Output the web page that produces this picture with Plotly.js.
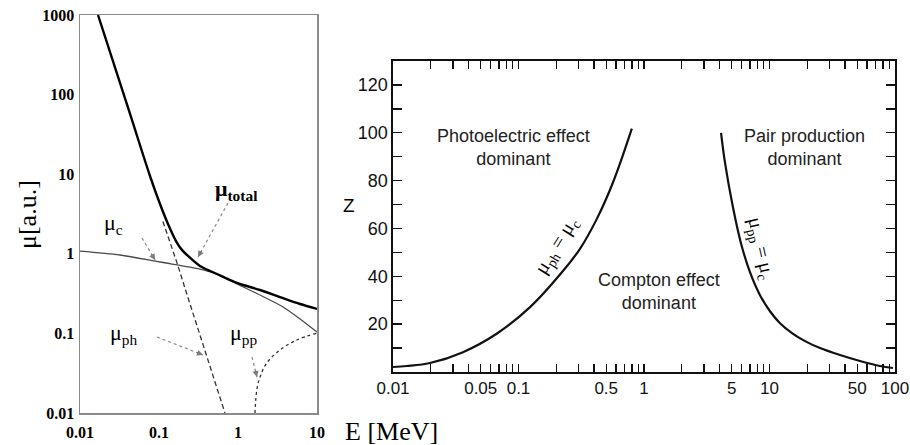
<!DOCTYPE html>
<html><head><meta charset="utf-8">
<script src="https://cdn.plot.ly/plotly-3.0.1.min.js"></script>
<style>html,body{margin:0;padding:0;background:#fff}</style>
</head><body><div id="chart" style="width:910px;height:445px"></div>
<script>
// ---- Left panel: attenuation coefficients (log-log) ----
const E_total = [0.0169, 0.043, 0.0769, 0.103, 0.130, 0.169, 0.195, 0.226, 0.330, 0.542, 0.970, 1.90, 3.40, 6.10, 10];
const mu_total = [1000, 57.1, 9.49, 4.22, 2.37, 1.37, 1.12, 0.966, 0.703, 0.557, 0.430, 0.351, 0.286, 0.234, 0.203];
const E_c = [0.01, 0.0321, 0.1028, 0.330, 0.542, 0.970, 2.01, 3.72, 6.10, 10];
const mu_c = [1.08, 0.966, 0.789, 0.644, 0.557, 0.418, 0.295, 0.215, 0.152, 0.104];
const E_ph = [0.112, 0.169, 0.233, 0.4, 0.684];
const mu_ph = [2.55, 0.77, 0.28, 0.053, 0.01];
const E_pp = [1.64, 1.73, 1.90, 2.31, 3.40, 5.53, 10];
const mu_pp = [0.01, 0.0195, 0.0283, 0.0425, 0.062, 0.0826, 0.101];
const leftXTicks = [0.01, 0.1, 1, 10];
const leftXText = ['0.01', '0.1', '1', '10'];
const leftYTicks = [0.01, 0.1, 1, 10, 100, 1000];
const leftYText = ['0.01', '0.1', '1', '10', '100', '1000'];

// ---- Right panel: dominance boundaries Z vs E ----
const E_phc = [0.01, 0.0129, 0.0197, 0.0361, 0.0674, 0.1236, 0.226, 0.309, 0.42, 0.566, 0.80];
const Z_phc = [2.1, 2.5, 3.75, 8.3, 16.1, 27.1, 42.2, 51.5, 63.9, 79.2, 101.7];
const E_ppc = [4.11, 4.42, 5.12, 5.93, 6.99, 8.40, 10.09, 12.13, 15.11, 19.19, 25.26, 36.46, 52.6, 75.9, 96.4];
const Z_ppc = [100, 87.5, 68.75, 53.75, 41.7, 32.1, 25.4, 20.4, 16.25, 12.9, 10, 7.1, 4.6, 2.5, 1.67];
const rightXTicks = [0.01,0.02,0.03,0.04,0.05,0.06,0.07,0.08,0.09,0.1,0.2,0.3,0.4,0.5,0.6,0.7,0.8,0.9,1,2,3,4,5,6,7,8,9,10,20,30,40,50,60,70,80,90,100];
const rightXText = ['0.01','','','','0.05','','','','','0.1','','','','0.5','','','','','1','','','','5','','','','','10','','','','50','','','','','100'];
const rightYTicks = [10,20,30,40,50,60,70,80,90,100,110,120];
const rightYText = ['','20','','40','','60','','80','','100','','120'];

const W = 910, H = 445;
const px = x => x / W, py = y => 1 - y / H;

const traces = [
  {x: E_c, y: mu_c, xaxis: 'x', yaxis: 'y', mode: 'lines', line: {color: '#4a4a4a', width: 1.3, shape: 'spline', smoothing: 0.8}},
  {x: E_ph, y: mu_ph, xaxis: 'x', yaxis: 'y', mode: 'lines', line: {color: '#333', width: 1.3, dash: '5px,3px'}},
  {x: E_pp, y: mu_pp, xaxis: 'x', yaxis: 'y', mode: 'lines', line: {color: '#333', width: 1.3, dash: 'dot', shape: 'spline'}},
  {x: E_total, y: mu_total, xaxis: 'x', yaxis: 'y', mode: 'lines', line: {color: '#000', width: 2.4, shape: 'spline', smoothing: 0.8}},
  {x: E_phc, y: Z_phc, xaxis: 'x2', yaxis: 'y2', mode: 'lines', line: {color: '#111', width: 2.2, shape: 'spline'}},
  {x: E_ppc, y: Z_ppc, xaxis: 'x2', yaxis: 'y2', mode: 'lines', line: {color: '#111', width: 2.2, shape: 'spline'}}
];

const serif = 'Liberation Serif, Times New Roman, serif';
const sans = 'Liberation Sans, Arial, sans-serif';

// dotted arrows on the left panel: [x0,y0,x1,y1] in pixels, head at (x1,y1)
const arrows = [
  [142, 238, 155, 260],
  [228, 203, 198, 257],
  [157, 337, 203, 355],
  [252, 357, 257, 377]
];
const shapes = arrows.map(a => ({type: 'line', xref: 'paper', yref: 'paper',
  x0: px(a[0]), y0: py(a[1]), x1: px(a[2]), y1: py(a[3]),
  line: {color: '#8a8a8a', width: 1.2, dash: 'dot'}}));

const annotations = [];
arrows.forEach(a => {
  const dx = a[0] - a[2], dy = a[1] - a[3], L = Math.hypot(dx, dy);
  annotations.push({xref: 'paper', yref: 'paper', x: px(a[2]), y: py(a[3]), text: '',
    showarrow: true, arrowhead: 2, arrowsize: 1.1, arrowwidth: 1.1, arrowcolor: '#7a7a7a',
    ax: dx / L * 9, ay: dy / L * 9});
});
const lab = (x, y, text, size, family, extra) => Object.assign({xref: 'paper', yref: 'paper',
  x: px(x), y: py(y), text: text, showarrow: false, xanchor: 'center', yanchor: 'middle',
  font: {family: family, size: size, color: '#000'}}, extra || {});

annotations.push(lab(113, 224, 'μ<sub>c</sub>', 22, serif));
annotations.push(lab(236, 190, '<b>μ<sub>total</sub></b>', 22, serif));
annotations.push(lab(124, 334, 'μ<sub>ph</sub>', 22, serif));
annotations.push(lab(243, 334, 'μ<sub>pp</sub>', 22, serif));
annotations.push(lab(27, 215, 'μ[a.u.]', 26, serif, {textangle: -90}));
annotations.push(lab(391, 431, 'E [MeV]', 26, serif));
annotations.push(lab(349, 205, 'Z', 19, sans));
annotations.push(lab(513, 147, 'Photoelectric effect<br>dominant', 18, sans, {font: {family: sans, size: 18, color: '#222'}}));
annotations.push(lab(804, 147, 'Pair production<br>dominant', 18, sans, {font: {family: sans, size: 18, color: '#222'}}));
annotations.push(lab(659, 291, 'Compton effect<br>dominant', 18, sans, {font: {family: sans, size: 18, color: '#222'}}));
annotations.push(lab(556, 246, 'μ<sub>ph</sub> = μ<sub>c</sub>', 20, serif, {textangle: -58}));
annotations.push(lab(760, 248, 'μ<sub>pp</sub> = μ<sub>c</sub>', 20, serif, {textangle: 77}));

const layout = {
  width: W, height: H, margin: {l: 0, r: 0, t: 0, b: 0},
  paper_bgcolor: '#fff', plot_bgcolor: '#fff', showlegend: false,
  font: {family: sans, color: '#000'},
  xaxis: {type: 'log', range: [-2, 1], domain: [px(80), px(317)], anchor: 'y',
    showline: true, mirror: true, linecolor: '#8a8a8a', linewidth: 1.5,
    showgrid: false, zeroline: false, ticks: '', tickmode: 'array',
    tickvals: leftXTicks, ticktext: leftXText, ticklabelstandoff: 4,
    tickfont: {family: serif, size: 16, weight: 'bold', color: '#000'}},
  yaxis: {type: 'log', range: [-2, 3], domain: [1 - 413 / H, 1 - 15 / H], anchor: 'x',
    showline: true, mirror: true, linecolor: '#8a8a8a', linewidth: 1.5,
    showgrid: false, zeroline: false, ticks: '', tickmode: 'array',
    tickvals: leftYTicks, ticktext: leftYText, ticklabelstandoff: 1,
    tickfont: {family: serif, size: 16, weight: 'bold', color: '#000'}},
  xaxis2: {type: 'log', range: [-2, 2], domain: [px(393), px(895)], anchor: 'y2',
    showline: true, mirror: 'ticks', linecolor: '#111', linewidth: 1.6,
    showgrid: false, zeroline: false, ticks: 'inside', ticklen: 8, tickwidth: 1.4, tickcolor: '#111',
    tickmode: 'array', tickvals: rightXTicks, ticktext: rightXText, ticklabelstandoff: 0,
    tickfont: {family: sans, size: 17, color: '#111'}},
  yaxis2: {range: [0, 130], domain: [1 - 372 / H, 1 - 61 / H], anchor: 'x2',
    showline: true, mirror: 'ticks', linecolor: '#111', linewidth: 1.6,
    showgrid: false, zeroline: false, ticks: 'inside', ticklen: 9, tickwidth: 1.4, tickcolor: '#111',
    tickmode: 'array', tickvals: rightYTicks, ticktext: rightYText, ticklabelstandoff: 0,
    tickfont: {family: sans, size: 18, color: '#111'}},
  shapes: shapes,
  annotations: annotations
};

Plotly.newPlot('chart', traces, layout, {staticPlot: true, displayModeBar: false});
</script>
</body></html>
